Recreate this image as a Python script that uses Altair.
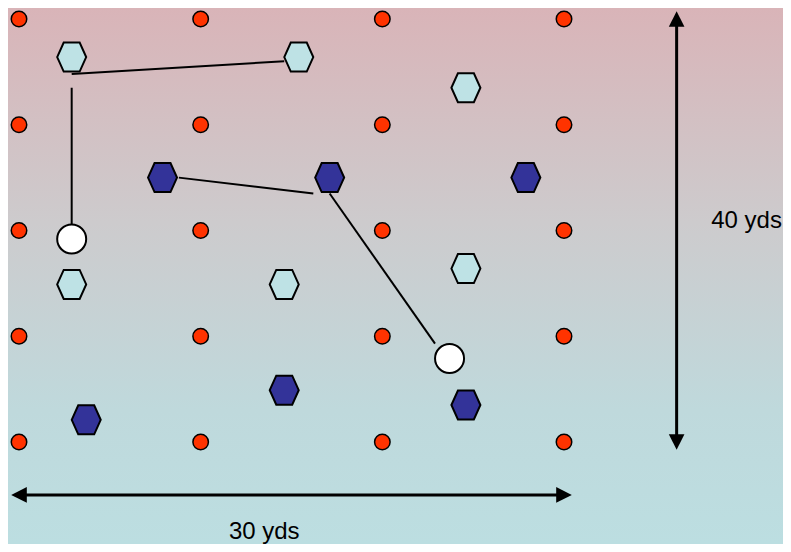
import altair as alt
import pandas as pd

# ---- data (yards; grid is 30 x 40 yds) ----
cone_x = [0, 10, 20, 30]
cone_y = [0, 10, 20, 30, 40]

light_hex_x = [2.9, 15.4, 24.6, 2.9, 14.6, 24.6]
light_hex_y = [36.4, 36.4, 33.5, 14.9, 14.9, 16.4]

dark_hex_x = [7.9, 17.1, 27.9, 14.6, 3.7, 24.6]
dark_hex_y = [25.0, 25.0, 25.0, 4.9, 2.1, 3.5]

ball_x = [2.9, 23.7]
ball_y = [19.2, 7.9]

pass_x1 = [2.9, 2.9, 8.8, 17.1]
pass_y1 = [34.8, 33.5, 25.0, 23.5]
pass_x2 = [14.6, 2.9, 16.2, 22.9]
pass_y2 = [36.0, 20.6, 23.5, 9.3]

dim_labels = ["40 yds", "30 yds"]
dim_label_x = [40.05, 13.5]
dim_label_y = [20.2, -9.17]

arrow_v_x = 36.2
arrow_v_y = [0, 40]
arrow_h_y = -5.0
arrow_h_x = [0, 30]

W, H = 775, 536
xs = alt.Scale(domain=[-0.6055, 42.055], nice=False, zero=False)
ys = alt.Scale(domain=[-9.645, 41.040], nice=False, zero=False)

def X(f="x"):
    return alt.X(f"{f}:Q", scale=xs, axis=None)

def Y(f="y"):
    return alt.Y(f"{f}:Q", scale=ys, axis=None)

cones = pd.DataFrame([(x, y) for y in cone_y for x in cone_x], columns=["x", "y"])
lhex = pd.DataFrame({"x": light_hex_x, "y": light_hex_y})
dhex = pd.DataFrame({"x": dark_hex_x, "y": dark_hex_y})
balls = pd.DataFrame({"x": ball_x, "y": ball_y})
passes = pd.DataFrame({"x": pass_x1, "y": pass_y1, "x2": pass_x2, "y2": pass_y2})
labels = pd.DataFrame({"t": dim_labels, "x": dim_label_x, "y": dim_label_y})
shafts = pd.DataFrame({
    "x": [arrow_v_x, arrow_h_x[0]], "y": [arrow_v_y[0], arrow_h_y],
    "x2": [arrow_v_x, arrow_h_x[1]], "y2": [arrow_v_y[1], arrow_h_y],
})
heads_up = pd.DataFrame({"x": [arrow_v_x], "y": [arrow_v_y[1]]})
heads_down = pd.DataFrame({"x": [arrow_v_x], "y": [arrow_v_y[0]]})
heads_left = pd.DataFrame({"x": [arrow_h_x[0]], "y": [arrow_h_y]})
heads_right = pd.DataFrame({"x": [arrow_h_x[1]], "y": [arrow_h_y]})

HEX = "M -1 0 L -0.55 -1 L 0.55 -1 L 1 0 L 0.55 1 L -0.55 1 Z"

bg = alt.Chart(pd.DataFrame({"a": [0]})).mark_rect(
    fill=alt.Gradient(
        gradient="linear",
        stops=[alt.GradientStop(color="#d9b4b8", offset=0),
               alt.GradientStop(color="#cdcbcd", offset=0.4),
               alt.GradientStop(color="#bfd9dc", offset=0.75),
               alt.GradientStop(color="#bcdee1", offset=1)],
        x1=0, x2=0, y1=0, y2=1),
).encode(x=alt.value(0), x2=alt.value(W), y=alt.value(0), y2=alt.value(H))

pass_lines = alt.Chart(passes).mark_rule(color="black", strokeWidth=2).encode(
    x=X(), y=Y(), x2="x2:Q", y2="y2:Q")

shaft_lines = alt.Chart(shafts).mark_rule(color="black", strokeWidth=3).encode(
    x=X(), y=Y(), x2="x2:Q", y2="y2:Q")

def head(df, path):
    return alt.Chart(df).mark_point(shape=path, filled=True, fill="black",
                                    strokeWidth=0, size=245, opacity=1).encode(x=X(), y=Y())

h1 = head(heads_up, "M 0 -1 L 1 1 L -1 1 Z")
h2 = head(heads_down, "M 0 1 L 1 -1 L -1 -1 Z")
h3 = head(heads_left, "M -1 0 L 1 -1 L 1 1 Z")
h4 = head(heads_right, "M 1 0 L -1 -1 L -1 1 Z")

cone_pts = alt.Chart(cones).mark_point(shape="circle", filled=True, fill="#ff3300",
                                       stroke="black", strokeWidth=1.5, size=240,
                                       opacity=1).encode(x=X(), y=Y())

lhex_pts = alt.Chart(lhex).mark_point(shape=HEX, filled=True, fill="#bee2e5",
                                      stroke="black", strokeWidth=2, size=841,
                                      opacity=1).encode(x=X(), y=Y())
dhex_pts = alt.Chart(dhex).mark_point(shape=HEX, filled=True, fill="#333399",
                                      stroke="black", strokeWidth=2, size=841,
                                      opacity=1).encode(x=X(), y=Y())
ball_pts = alt.Chart(balls).mark_point(shape="circle", filled=True, fill="white",
                                       stroke="black", strokeWidth=2, size=841,
                                       opacity=1).encode(x=X(), y=Y())

text = alt.Chart(labels).mark_text(font="Liberation Sans", fontSize=24, color="black",
                                   align="center", baseline="alphabetic").encode(
    x=X(), y=Y(), text="t:N")

chart = alt.layer(bg, pass_lines, shaft_lines, h1, h2, h3, h4, cone_pts,
                  lhex_pts, dhex_pts, ball_pts, text).properties(
    width=W, height=H,
    autosize=alt.AutoSizeParams(type="none"),
    padding=0,
).configure_view(stroke=None)

chart.save("out.html", embed_options={"renderer": "svg", "actions": False})
